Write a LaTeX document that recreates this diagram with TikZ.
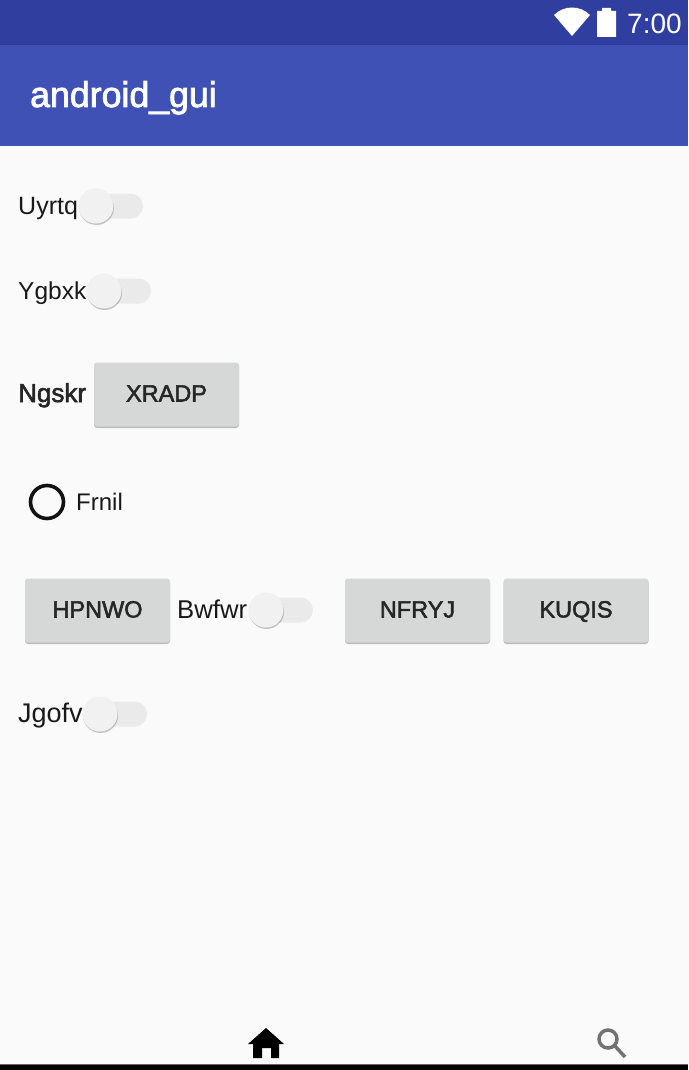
\documentclass[tikz,border=0pt]{standalone}
\usepackage{fontspec}
\setmainfont{Liberation Sans}
\newfontfamily\medfont[FakeBold=2.2]{Liberation Sans}
\usepackage{xcolor}
\usetikzlibrary{shadows, positioning}
\definecolor{statusblue}{HTML}{303F9F}
\definecolor{barblue}{HTML}{3F51B5}
\definecolor{pagegray}{HTML}{FAFAFA}
\definecolor{btngray}{HTML}{D6D7D7}
\definecolor{trackgray}{HTML}{EAEAEA}
\definecolor{thumbgray}{HTML}{F1F1F1}

\begin{document}
\begin{tikzpicture}[
    x=1pt, y=-1pt,
    label/.style={inner sep=0pt, anchor=base west, font=\fontsize{25}{30}\selectfont, text=black!90},
    medlabel/.style={label, font=\medfont\fontsize{26}{30}\selectfont, text=black!85},
    btn/.style={draw=none, fill=btngray, rounded corners=3pt, minimum width=145pt, minimum height=64pt,
                inner sep=0pt, text height=14pt, text depth=0pt, text=black!85,
                font=\medfont\fontsize{23.5}{30}\selectfont,
                drop shadow={shadow xshift=0pt, shadow yshift=-1.5pt, opacity=.25, fill=black}},
    track/.style={fill=trackgray, rounded corners=12.5pt, minimum width=56pt, minimum height=25pt, inner sep=0pt},
    thumb/.style={circle, fill=thumbgray, minimum size=35pt, inner sep=0pt,
                  drop shadow={shadow xshift=0.5pt, shadow yshift=-1.5pt, opacity=.22, fill=black}}
]
\useasboundingbox (0,0) rectangle (688,1070);

% page and bars
\fill[pagegray] (0,0) rectangle (688,1070);
\fill[statusblue] (0,0) rectangle (688,45);
\fill[barblue] (0,45) rectangle (688,146);
\fill[black!60] (0,1064) rectangle (688,1066);
\fill[black] (0,1065) rectangle (688,1070);

% status bar
\fill[white] (572,36) -- (554,15) .. controls (564,5) and (580,5) .. (590,15) -- cycle;
\fill[white] (597,11) -- (602,11) -- (602,8) -- (611,8) -- (611,11) -- (616,11) -- (616,37) -- (597,37) -- cycle;
\node[label, text=white, font=\fontsize{28}{32}\selectfont] (clock) at (627,34) {7:00};
\node[label, text=white, font=\medfont\fontsize{35.7}{38}\selectfont] (title) at (30,107) {android\_gui};

% labels
\node[label]    (uyrtq) at (18,214)  {Uyrtq};
\node[label, font=\fontsize{24.5}{30}\selectfont] (ygbxk) at (18,299)  {Ygbxk};
\node[medlabel] (ngskr) at (18,402)  {Ngskr};
\node[label, font=\fontsize{24}{30}\selectfont]   (frnil) at (76,510)  {Frnil};
\node[label, font=\fontsize{25.7}{30}\selectfont] (bwfwr) at (177,618) {Bwfwr};
\node[label, font=\fontsize{27}{30}\selectfont]   (jgofv) at (18,722)  {Jgofv};

% switches
\foreach \n/\x/\y in {uyrtq/96/206, ygbxk/104/291, bwfwr/266/610, jgofv/100/714} {
  \node[track] (\n track) at (\x+19,\y) {};
  \node[thumb] (\n thumb) at (\x,\y) {};
}

% buttons
\node[btn] (xradp) at (166.5,394.5) {XRADP};
\node[btn] (hpnwo) at (97.5,610.5)  {HPNWO};
\node[btn] (nfryj) at (417.5,610.5) {NFRYJ};
\node[btn] (kuqis) at (576,610.5)   {KUQIS};

% radio
\node[circle, draw=black!93, line width=3.6pt, minimum size=33pt, inner sep=0pt] (radio) at (47,502) {};

% bottom icons
\fill[black] (266,1028) -- (284,1044) -- (279,1044) -- (279,1058) -- (271,1058) -- (271,1048) -- (262,1048)
  -- (262,1058) -- (253,1058) -- (253,1044) -- (248,1044) -- cycle;
\draw[black!55, line width=3.5pt] (608,1039) circle (9);
\draw[black!55, line width=3.5pt] (615,1046) -- (625,1057);
\end{tikzpicture}
\end{document}
